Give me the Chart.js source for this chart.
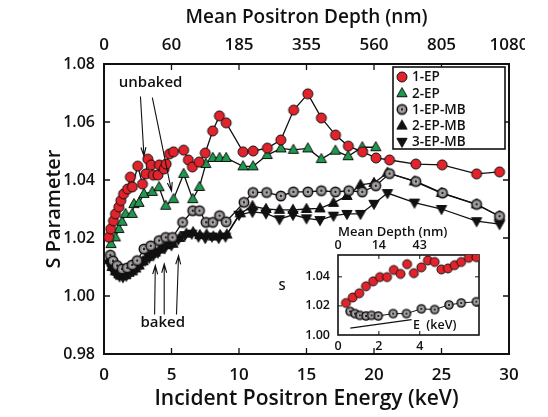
<!DOCTYPE html>
<html><head><meta charset="utf-8">
<script src="https://cdn.jsdelivr.net/npm/chart.js@4.4.1/dist/chart.umd.min.js"></script>
<style>
html,body{margin:0;padding:0;background:#fff;}
#wrap{position:relative;width:525px;height:417px;overflow:hidden;background:#fff;}
#main{position:absolute;left:0;top:0;}
#inset{position:absolute;left:270px;top:218px;}
</style></head><body>
<div id="wrap">
<canvas id="main" width="548" height="417"></canvas>
<canvas id="inset" width="215" height="142"></canvas>
</div>
<script>
// ---------- main chart data ----------
const energyTicks = [0, 5, 10, 15, 20, 25, 30];
const depthLabels = ['0', '60', '185', '355', '560', '805', '1080'];
const sTicks = [0.98, 1.00, 1.02, 1.04, 1.06, 1.08];
const seriesNames = ['1-EP', '2-EP', '1-EP-MB', '2-EP-MB', '3-EP-MB'];

const ep1E = [0.35,0.5,0.7,0.85,1.1,1.25,1.45,1.75,1.95,2.1,2.5,2.85,3.1,3.25,3.5,3.65,4.0,4.1,4.45,4.6,4.85,5.15,5.9,6.25,6.55,7.05,7.5,8.05,8.55,9.05,10.3,11.05,12.1,13.1,14.05,15.1,16.1,17.15,18.1,19.15,20.15,21.15,23.1,25.05,27.6,29.3];
const ep1S = [1.0203,1.0231,1.0259,1.0283,1.0307,1.0329,1.0352,1.0369,1.0410,1.0376,1.0448,1.0386,1.0421,1.0472,1.0452,1.0417,1.0417,1.0452,1.0438,1.0455,1.0490,1.0497,1.0503,1.0469,1.0445,1.0462,1.0493,1.0569,1.0621,1.0597,1.0497,1.0500,1.0510,1.0538,1.0641,1.0697,1.0614,1.0555,1.0517,1.0497,1.0476,1.0469,1.0455,1.0452,1.0421,1.0428];

const ep2E = [0.52,0.84,1.1,1.34,1.59,2.09,2.22,2.59,2.96,3.58,4.08,4.57,5.15,5.9,6.57,7.07,7.54,8.06,8.56,9.05,10.3,11.04,12.09,13.11,14.03,15.1,16.1,17.14,18.08,19.13,20.13];
const ep2S = [1.0179,1.0202,1.0231,1.0256,1.0283,1.0283,1.0317,1.0321,1.0352,1.0359,1.0375,1.0311,1.0334,1.0421,1.0334,1.0376,1.0455,1.0476,1.0476,1.0476,1.0447,1.0447,1.0486,1.0509,1.0504,1.0509,1.0472,1.0501,1.0482,1.0513,1.0513];

const mb1E = [0.47,0.67,0.97,1.34,1.72,2.09,2.46,2.96,3.46,4.08,4.57,5.07,5.82,6.57,7.07,7.56,8.06,8.56,9.05,10.37,11.04,12.05,13.1,14.03,15.1,16.1,17.14,18.13,19.13,20.13,21.15,23.1,25.07,27.6,29.3];
const mb1S = [1.0141,1.0121,1.0105,1.0093,1.0097,1.0107,1.0122,1.0162,1.0173,1.0191,1.0202,1.0202,1.0254,1.0294,1.0294,1.0254,1.0254,1.0277,1.0256,1.0323,1.0357,1.0357,1.0345,1.0359,1.0359,1.0363,1.0359,1.0363,1.0359,1.0380,1.0422,1.0395,1.0355,1.0316,1.0275];

const mb2E = [0.35,0.6,0.85,1.1,1.35,1.6,1.85,2.1,2.35,2.6,2.9,3.2,3.5,3.8,4.1,4.6,5.1,5.6,6.1,6.6,7.1,7.6,8.1,8.6,9.1,10.1,11.0,12.0,13.0,14.0,15.0,16.0,17.0,18.0,19.0,20.0,21.0,23.0,25.0,27.6,29.3];
const mb2S = [1.0125,1.0100,1.0085,1.0075,1.0070,1.0072,1.0080,1.0085,1.0095,1.0105,1.0120,1.0135,1.0145,1.0150,1.0160,1.0175,1.0180,1.0200,1.0215,1.0220,1.0210,1.0212,1.0205,1.0210,1.0212,1.0285,1.0310,1.0300,1.0297,1.0297,1.0300,1.0302,1.0321,1.0345,1.0383,1.0390,1.0425,1.0395,1.0355,1.0316,1.0275];

const mb3E = [0.4,0.65,0.9,1.15,1.4,1.65,1.9,2.15,2.45,2.75,3.05,3.35,3.65,4.0,4.5,5.0,5.5,6.0,6.5,7.0,7.5,8.0,8.5,9.0,10.0,11.0,12.0,13.0,14.0,15.0,16.0,17.0,18.0,19.0,20.0,21.0,23.0,25.0,27.6,29.3];
const mb3S = [1.0110,1.0090,1.0075,1.0068,1.0065,1.0070,1.0078,1.0088,1.0098,1.0110,1.0122,1.0132,1.0140,1.0150,1.0165,1.0175,1.0195,1.0210,1.0215,1.0205,1.0200,1.0205,1.0200,1.0205,1.0280,1.0290,1.0285,1.0265,1.0280,1.0268,1.0262,1.0277,1.0283,1.0283,1.0318,1.0355,1.0322,1.0300,1.0258,1.0248];

// annotations (in data units)
const noteTexts = ['unbaked', 'baked'];
const noteE = [3.45, 4.35];
const noteS = [1.0736, 0.9908];
const arrowFromE = [2.7, 3.58, 3.75, 4.46, 5.37];
const arrowFromS = [1.0688, 1.0684, 0.9936, 0.9936, 0.9936];
const arrowToE = [2.96, 5.0, 3.8, 4.46, 5.52];
const arrowToS = [1.0483, 1.0362, 1.0105, 1.0110, 1.0139];

// ---------- inset data ----------
const insetETicks = [0, 2, 4];
const insetDepthLabels = ['0', '14', '43'];
const insetSTicks = [1.00, 1.02, 1.04];
const inRedE = [0.39,0.72,1.04,1.37,1.72,2.05,2.40,2.73,3.06,3.38,3.71,4.08,4.40,4.73,5.06,5.38,5.71,6.03,6.40,6.77];
const inRedS = [1.0220,1.0258,1.0287,1.0335,1.0369,1.0398,1.0398,1.0447,1.0420,1.0487,1.0425,1.0465,1.0513,1.0502,1.0451,1.0458,1.0480,1.0502,1.0531,1.0535];
const inGrayE = [0.59,0.83,1.07,1.37,1.64,1.97,2.70,3.35,4.08,4.73,5.43,6.03,6.77];
const inGrayS = [1.0162,1.0147,1.0135,1.0131,1.0135,1.0131,1.0147,1.0147,1.0180,1.0175,1.0207,1.0220,1.0229];
const inLineE = [0.6, 3.6];
const inLineS = [1.0047, 1.0105];

// ---------- helpers ----------
const FONT = "'Open Sans', 'Noto Sans', sans-serif";
const INK = '#111';

function makeMarker(kind, scale) {
  const s = scale || 1;
  const n = Math.ceil(14 * s);
  const c = document.createElement('canvas');
  c.width = n; c.height = n;
  const g = c.getContext('2d');
  const m = n / 2;
  g.lineWidth = 1;
  g.strokeStyle = INK;
  if (kind === 'red' || kind === 'bull') {
    g.beginPath(); g.arc(m, m, (kind === 'red' ? 5 : 4.8) * s, 0, Math.PI * 2);
    g.fillStyle = kind === 'red' ? '#e2232b' : '#8e8888';
    g.fill(); g.lineWidth = kind === 'red' ? 1 : 1.4; g.stroke();
    if (kind === 'bull') {
      g.beginPath(); g.arc(m, m, 2.4 * s, 0, Math.PI * 2);
      g.fillStyle = '#cfcaca'; g.fill();
      g.beginPath(); g.arc(m, m, 1.4 * s, 0, Math.PI * 2);
      g.fillStyle = '#222'; g.fill();
    }
  } else {
    const up = kind !== 'down';
    const r = 5.6 * s;
    g.beginPath();
    if (up) { g.moveTo(m, m - r); g.lineTo(m - r * 0.92, m + r * 0.62); g.lineTo(m + r * 0.92, m + r * 0.62); }
    else { g.moveTo(m, m + r); g.lineTo(m - r * 0.92, m - r * 0.62); g.lineTo(m + r * 0.92, m - r * 0.62); }
    g.closePath();
    g.fillStyle = kind === 'green' ? '#1d9a4e' : '#111';
    g.fill(); g.stroke();
  }
  return c;
}

const markers = [makeMarker('red'), makeMarker('green'), makeMarker('bull'), makeMarker('up'), makeMarker('down')];
const allE = [ep1E, ep2E, mb1E, mb2E, mb3E];
const allS = [ep1S, ep2S, mb1S, mb2S, mb3S];

function pts(E, S) { return E.map((e, i) => ({ x: e, y: S[i] })); }

const framePlugin = {
  id: 'frame',
  beforeDatasetsDraw(chart, args, o) {
    const { ctx, chartArea: a, scales } = chart;
    ctx.save();
    ctx.strokeStyle = INK;
    ctx.lineWidth = o.tw;
    ctx.beginPath();
    const xs = scales[o.x], ys = scales[o.y];
    xs.ticks.forEach(t => {
      const p = xs.getPixelForValue(t.value);
      if (p <= a.left + 1 || p >= a.right - 1) return;
      ctx.moveTo(p, a.bottom); ctx.lineTo(p, a.bottom - o.len);
      ctx.moveTo(p, a.top); ctx.lineTo(p, a.top + o.len);
    });
    ys.ticks.forEach(t => {
      const p = ys.getPixelForValue(t.value);
      if (p <= a.top + 1 || p >= a.bottom - 1) return;
      ctx.moveTo(a.left, p); ctx.lineTo(a.left + o.len, p);
      ctx.moveTo(a.right, p); ctx.lineTo(a.right - o.len, p);
    });
    ctx.stroke();
    ctx.lineWidth = o.lw;
    ctx.strokeRect(a.left, a.top, a.right - a.left, a.bottom - a.top);
    ctx.restore();
  }
};

const legendPlugin = {
  id: 'boxLegend',
  afterDatasetsDraw(chart) {
    const { ctx, chartArea: a } = chart;
    const w = 112, h = 82;
    const x0 = a.right - 4 - w, y0 = a.top + 3;
    ctx.save();
    ctx.fillStyle = '#fff';
    ctx.fillRect(x0, y0, w, h);
    ctx.strokeStyle = INK; ctx.lineWidth = 1.6;
    ctx.strokeRect(x0, y0, w, h);
    ctx.font = '600 13.5px ' + FONT;
    ctx.fillStyle = INK; ctx.textAlign = 'left'; ctx.textBaseline = 'middle';
    chart.data.datasets.forEach((d, i) => {
      const cy = y0 + 10 + i * 16.2;
      const mk = d.pointStyle;
      ctx.drawImage(mk, x0 + 9 - mk.width / 2, cy - mk.height / 2);
      ctx.fillText(d.label, x0 + 19, cy + 0.5);
    });
    ctx.restore();
  }
};

function arrow(ctx, x1, y1, x2, y2) {
  const ang = Math.atan2(y2 - y1, x2 - x1), L = 9, sp = 0.28;
  ctx.beginPath();
  ctx.moveTo(x1, y1); ctx.lineTo(x2, y2);
  ctx.moveTo(x2 - L * Math.cos(ang - sp), y2 - L * Math.sin(ang - sp));
  ctx.lineTo(x2, y2);
  ctx.lineTo(x2 - L * Math.cos(ang + sp), y2 - L * Math.sin(ang + sp));
  ctx.stroke();
}

const annotPlugin = {
  id: 'annot',
  afterDatasetsDraw(chart) {
    const { ctx, scales: { x, y } } = chart;
    ctx.save();
    ctx.fillStyle = INK;
    ctx.font = '600 15px ' + FONT;
    ctx.textAlign = 'center'; ctx.textBaseline = 'middle';
    noteTexts.forEach((t, i) => ctx.fillText(t, x.getPixelForValue(noteE[i]), y.getPixelForValue(noteS[i])));
    ctx.strokeStyle = INK; ctx.lineWidth = 1.1;
    arrowFromE.forEach((e, i) => arrow(ctx,
      x.getPixelForValue(e), y.getPixelForValue(arrowFromS[i]),
      x.getPixelForValue(arrowToE[i]), y.getPixelForValue(arrowToS[i])));
    ctx.restore();
  }
};

function fixSize(prop, v) { return s => { s[prop] = v; }; }
function setTicks(vals) { return s => { s.ticks = vals.map(v => ({ value: v })); }; }

// ---------- main chart ----------
new Chart(document.getElementById('main'), {
  type: 'line',
  data: {
    datasets: seriesNames.map((name, i) => ({
      label: name,
      data: pts(allE[i], allS[i]),
      borderColor: INK,
      borderWidth: 1.3,
      pointStyle: markers[i],
      pointRadius: 5,
      pointHoverRadius: 5,
      fill: false,
      tension: 0,
      order: i
    }))
  },
  options: {
    responsive: false,
    animation: false,
    events: [],
    layout: { padding: { left: 0, right: 39, top: 0, bottom: 0 } },
    plugins: {
      legend: { display: false },
      tooltip: { enabled: false },
      frame: { x: 'x', y: 'y', lw: 2, tw: 1.3, len: 6 }
    },
    scales: {
      x: {
        type: 'linear', position: 'bottom', min: 0, max: 30,
        afterBuildTicks: setTicks(energyTicks),
        afterFit: fixSize('height', 63),
        grid: { display: false, drawTicks: false },
        border: { display: false },
        ticks: { color: INK, padding: 11, font: { family: FONT, size: 17, weight: '600' } },
        title: { display: true, text: 'Incident Positron Energy (keV)', color: INK,
          padding: { top: 0, bottom: 5 }, font: { family: FONT, size: 21, weight: '600' } }
      },
      x2: {
        type: 'linear', position: 'top', min: 0, max: 30,
        afterBuildTicks: setTicks(energyTicks),
        afterFit: fixSize('height', 64),
        grid: { display: false, drawTicks: false },
        border: { display: false },
        ticks: { color: INK, padding: 9, font: { family: FONT, size: 17, weight: '600' },
          callback: (v) => depthLabels[energyTicks.indexOf(v)] },
        title: { display: true, text: 'Mean Positron Depth (nm)', color: INK,
          padding: { top: 6, bottom: 0 }, font: { family: FONT, size: 19, weight: '600' } }
      },
      y: {
        type: 'linear', position: 'left', min: 0.98, max: 1.08,
        afterBuildTicks: setTicks(sTicks),
        afterFit: fixSize('width', 104),
        grid: { display: false, drawTicks: false },
        border: { display: false },
        ticks: { color: INK, padding: 9, font: { family: FONT, size: 16, weight: '600' },
          callback: (v) => v.toFixed(2) },
        title: { display: true, text: 'S Parameter', color: INK,
          padding: { top: 42, bottom: 0 }, font: { family: FONT, size: 20, weight: '600' } }
      }
    }
  },
  plugins: [framePlugin, annotPlugin, legendPlugin]
});

// ---------- inset chart ----------
const insetText = {
  id: 'insetText',
  afterDatasetsDraw(chart) {
    const { ctx, chartArea: a, scales: { ix, iy } } = chart;
    ctx.save();
    ctx.fillStyle = INK; ctx.textBaseline = 'middle'; ctx.textAlign = 'center';
    ctx.font = '600 13px ' + FONT;
    ctx.fillText('S', a.left - 56, iy.getPixelForValue(1.0335));
    ctx.font = '600 12.5px ' + FONT;
    ctx.fillText('E  (keV)', ix.getPixelForValue(4.73), iy.getPixelForValue(1.0068));
    ctx.restore();
  }
};

new Chart(document.getElementById('inset'), {
  type: 'line',
  data: {
    datasets: [
      { label: 'unbaked', data: pts(inRedE, inRedS), showLine: false,
        pointStyle: makeMarker('red', 0.9), pointRadius: 4.5, xAxisID: 'ix', yAxisID: 'iy' },
      { label: 'baked', data: pts(inGrayE, inGrayS), borderColor: INK, borderWidth: 1,
        pointStyle: makeMarker('bull', 0.85), pointRadius: 4, xAxisID: 'ix', yAxisID: 'iy' },
      { label: 'line', data: pts(inLineE, inLineS), borderColor: INK, borderWidth: 1.3,
        pointRadius: 0, xAxisID: 'ix', yAxisID: 'iy' }
    ]
  },
  options: {
    responsive: false,
    animation: false,
    events: [],
    layout: { padding: { left: 0, right: 6, top: 0, bottom: 0 } },
    plugins: {
      legend: { display: false },
      tooltip: { enabled: false },
      frame: { x: 'ix', y: 'iy', lw: 1.6, tw: 1, len: 4 }
    },
    scales: {
      ix: {
        type: 'linear', position: 'bottom', min: 0, max: 6.9,
        afterBuildTicks: setTicks(insetETicks),
        afterFit: fixSize('height', 25),
        grid: { display: false, drawTicks: false },
        border: { display: false },
        ticks: { color: INK, padding: 4, font: { family: FONT, size: 12.5, weight: '600' } }
      },
      ix2: {
        type: 'linear', position: 'top', min: 0, max: 6.9,
        afterBuildTicks: setTicks(insetETicks),
        afterFit: fixSize('height', 37),
        grid: { display: false, drawTicks: false },
        border: { display: false },
        ticks: { color: INK, padding: 2, font: { family: FONT, size: 12.5, weight: '600' },
          callback: (v) => insetDepthLabels[insetETicks.indexOf(v)] },
        title: { display: true, text: 'Mean Depth (nm)', color: INK, align: 'start',
          padding: { top: 6, bottom: 0 }, font: { family: FONT, size: 13, weight: '600' } }
      },
      iy: {
        type: 'linear', position: 'left', min: 1.0, max: 1.055,
        afterBuildTicks: setTicks(insetSTicks),
        afterFit: fixSize('width', 68),
        grid: { display: false, drawTicks: false },
        border: { display: false },
        ticks: { color: INK, padding: 8, font: { family: FONT, size: 12.5, weight: '600' },
          callback: (v) => v.toFixed(2) }
      }
    }
  },
  plugins: [framePlugin, insetText]
});
</script>
</body></html>
